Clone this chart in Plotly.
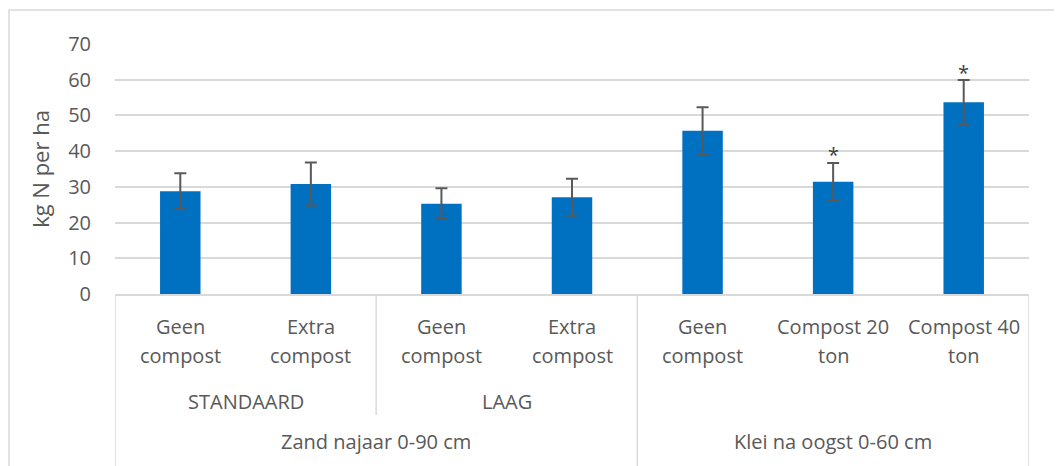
import plotly.graph_objects as go

# data
labels_top = ["Geen", "Extra", "Geen", "Extra", "Geen", "Compost 20", "Compost 40"]
labels_bottom = ["compost", "compost", "compost", "compost", "compost", "ton", "ton"]
values = [28.8, 30.8, 25.3, 27.1, 45.7, 31.4, 53.7]
errors = [5.0, 6.0, 4.3, 5.2, 6.6, 5.3, 6.2]
significant = [False, False, False, False, False, True, True]

mid_groups = ["STANDAARD", "LAAG"]
mid_centers = [0.5, 2.5]
top_groups = ["Zand najaar 0-90 cm", "Klei na oogst 0-60 cm"]
top_centers = [1.5, 5.0]

FONT = "Open Sans"
GREY = "#595959"
LINE = "#d9d9d9"

x = list(range(len(values)))

fig = go.Figure()
fig.add_trace(go.Bar(
    x=x, y=values, width=0.31,
    marker=dict(color="#0070C0", line=dict(width=0)),
    error_y=dict(type="data", array=errors, visible=True,
                 color=GREY, thickness=2, width=6),
    showlegend=False,
))

annotations = []
# category labels (two lines)
for i in x:
    annotations.append(dict(x=i, y=-0.128, xref="x", yref="paper", text=labels_top[i],
                            showarrow=False, yanchor="middle",
                            font=dict(family=FONT, size=20, color=GREY)))
    annotations.append(dict(x=i, y=-0.245, xref="x", yref="paper", text=labels_bottom[i],
                            showarrow=False, yanchor="middle",
                            font=dict(family=FONT, size=20, color=GREY)))
for name, c in zip(mid_groups, mid_centers):
    annotations.append(dict(x=c, y=-0.43, xref="x", yref="paper", text=name,
                            showarrow=False, yanchor="middle",
                            font=dict(family=FONT, size=20, color=GREY)))
for name, c in zip(top_groups, top_centers):
    annotations.append(dict(x=c, y=-0.59, xref="x", yref="paper", text=name,
                            showarrow=False, yanchor="middle",
                            font=dict(family=FONT, size=20, color=GREY)))
# significance stars
for i in x:
    if significant[i]:
        annotations.append(dict(x=i, y=values[i] + errors[i], xref="x", yref="y",
                                text="*", showarrow=False, yanchor="middle", yshift=8,
                                font=dict(family=FONT, size=20, color="#404040")))

shapes = [
    # outer frame
    dict(type="rect", xref="paper", yref="paper", x0=-0.116, x1=1.06, y0=-0.75, y1=1.136,
         line=dict(color=LINE, width=1.5), fillcolor="rgba(0,0,0,0)", layer="below"),
    # category separators
    dict(type="line", xref="x", yref="paper", x0=-0.5, x1=-0.5, y0=0, y1=-0.75,
         line=dict(color=LINE, width=1.5)),
    dict(type="line", xref="x", yref="paper", x0=1.5, x1=1.5, y0=0, y1=-0.484,
         line=dict(color=LINE, width=1.5)),
    dict(type="line", xref="x", yref="paper", x0=3.5, x1=3.5, y0=0, y1=-0.75,
         line=dict(color=LINE, width=1.5)),
    dict(type="line", xref="x", yref="paper", x0=6.5, x1=6.5, y0=0, y1=-0.75,
         line=dict(color=LINE, width=1.5)),
]

# the page has an 8px body margin, so margins are shifted by 8px
fig.update_layout(
    width=1062, height=466,
    margin=dict(l=107, r=41, t=36, b=180),
    paper_bgcolor="white", plot_bgcolor="white",
    annotations=annotations, shapes=shapes,
    xaxis=dict(range=[-0.5, 6.5], showticklabels=False, showgrid=False, zeroline=False,
               showline=True, linecolor=LINE, linewidth=1.5, fixedrange=True),
    yaxis=dict(range=[0, 70], dtick=10, showgrid=True, gridcolor=LINE, gridwidth=1.5,
               zeroline=False, showline=False, ticklabelstandoff=23,
               tickfont=dict(family=FONT, size=20, color=GREY),
               title=dict(text="kg N per ha", standoff=12,
                          font=dict(family=FONT, size=22, color=GREY))),
)

fig.write_html("out.html")
